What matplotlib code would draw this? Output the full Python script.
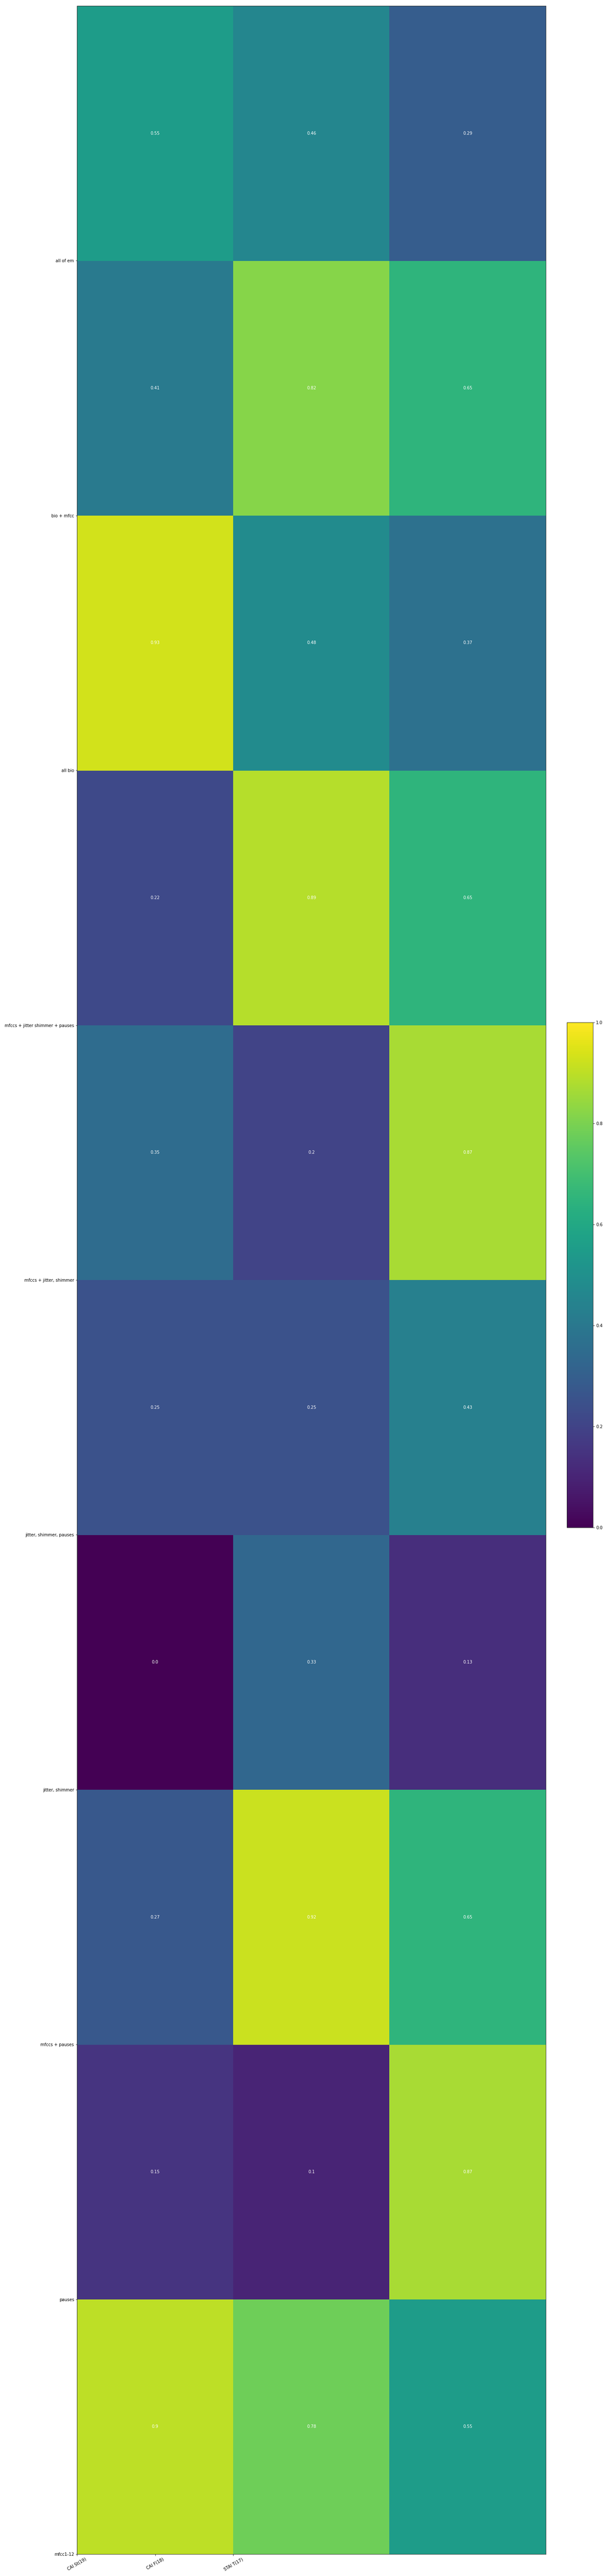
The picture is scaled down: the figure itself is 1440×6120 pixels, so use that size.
import matplotlib
matplotlib.use('Agg')
import matplotlib.pyplot as plt
import numpy as np

# feature sets, bottom row first (pcolor draws row 0 at the bottom)
feature_sets = ['mfcc1-12', 'pauses', 'mfccs + pauses', 'jitter, shimmer',
                'jitter, shimmer, pauses', 'mfccs + jitter, shimmer',
                'mfccs + jitter shimmer + pauses', 'all bio', 'bio + mfcc', 'all of em']
scales = ['CAI St(19)', 'CAI F(18)', 'STAI T(17)']

cai_st = [0.9, 0.15, 0.27, 0.0, 0.25, 0.35, 0.22, 0.93, 0.41, 0.55]
cai_f = [0.78, 0.1, 0.92, 0.33, 0.25, 0.2, 0.89, 0.48, 0.82, 0.46]
stai_t = [0.55, 0.87, 0.65, 0.13, 0.43, 0.87, 0.65, 0.37, 0.65, 0.29]

scores = np.array([cai_st, cai_f, stai_t]).T

W, H = 1440, 6120
fig = plt.figure(figsize=(W / 72, H / 72), dpi=72)
ax = fig.add_axes([183 / W, 1 - 6068 / H, (1297 - 183) / W, (6068 - 14) / H])
cax = fig.add_axes([1347 / W, 1 - 3629 / H, 62 / W, 1200 / H])

pc = ax.pcolor(scores, cmap='viridis', vmin=0, vmax=1)

# annotate each cell
for i in range(scores.shape[0]):
    for j in range(scores.shape[1]):
        ax.text(j + 0.5, i + 0.5, str(scores[i, j]), ha='center', va='center',
                color='w', fontsize=10)

# x labels sit half a column apart, as in the original plot
ax.set_xticks(np.arange(len(scales)) * 0.5)
ax.set_xticklabels(scales, rotation=30)
ax.set_yticks(np.arange(len(feature_sets)))
ax.set_yticklabels(feature_sets)

fig.colorbar(pc, cax=cax)

fig.savefig('out.png', dpi=72)
